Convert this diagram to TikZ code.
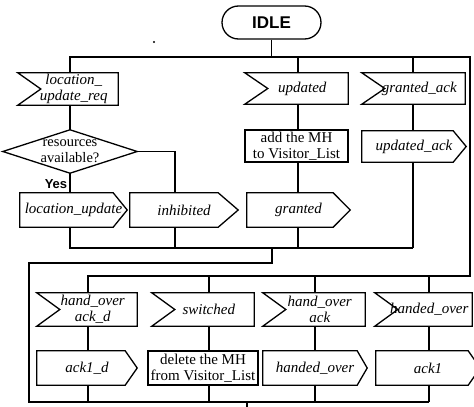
\documentclass[tikz,border=0pt]{standalone}
\usepackage{fontspec}
\setmainfont{Liberation Serif}
\setsansfont{Liberation Sans}
\usetikzlibrary{calc}
\tikzset{
  ln/.style={line width=1.3pt},
  sig/.style={draw=none, inner sep=0pt, align=center, font=\fontsize{15}{16}\selectfont\itshape},
  rbox/.style={draw, ln, inner sep=0pt, align=center, font=\fontsize{15}{16}\selectfont},
}
\newcommand\insig[1]{\draw[ln] ([xshift=-11.5pt]#1.north west) -- (#1.north east) -- (#1.south east) -- ([xshift=-11.5pt]#1.south west) -- ([xshift=11.5pt]#1.west) -- cycle;}
\newcommand\outsig[2]{\draw[ln] (#1.north west) -- ([xshift=-#2]#1.north east) -- (#1.east) -- ([xshift=-#2]#1.south east) -- (#1.south west) -- cycle;}
\begin{document}
\begin{tikzpicture}[x=1pt,y=-1pt]
\useasboundingbox[fill=white] (0,0) rectangle (474,407);

% start state
\node[draw, ln, rounded corners=16.5pt, minimum width=99pt, minimum height=33pt, inner sep=0pt,
  font=\sffamily\bfseries\fontsize{17}{18}\selectfont] (idle) at (271.5,22.5) {IDLE};
\fill (154,42) circle (1.2pt);

% upper part
\node[sig, minimum width=88.5pt, minimum height=32pt] (lur) at (73.75,89) {location\_\\update\_req};
\node[draw=none, minimum width=134pt, minimum height=43pt, inner sep=0pt, align=center,
  font=\fontsize{14.5}{16}\selectfont] (res) at (70,151.5) {resources\\available?};
\node[font=\sffamily\bfseries\fontsize{13}{14}\selectfont, inner sep=0pt] (yes) at (56,184) {Yes};
\node[sig, minimum width=107pt, minimum height=34pt] (lu) at (73.5,210) {location\_update};
\node[sig, minimum width=108pt, minimum height=34pt] (inh) at (184,210) {inhibited};

\node[sig, minimum width=91.5pt, minimum height=31pt] (upd) at (302.25,88.5) {updated};
\node[rbox, minimum width=103pt, minimum height=32pt] (add) at (296.5,146) {add the MH\\to Visitor\_List};
\node[sig, minimum width=103pt, minimum height=34pt] (gra) at (298.5,210) {granted};

\node[sig, minimum width=91.5pt, minimum height=31pt] (gack) at (419.25,88.5) {granted\_ack};
\node[sig, minimum width=104pt, minimum height=31pt] (uack) at (414,146.5) {updated\_ack};

% lower part
\node[sig, minimum width=88.5pt, minimum height=33pt] (hoad) at (92.75,309.5) {hand\_over\\ack\_d};
\node[sig, minimum width=90.5pt, minimum height=33pt] (sw) at (208.75,309.5) {switched};
\node[sig, minimum width=90.5pt, minimum height=33pt] (hoa) at (319.75,309.5) {hand\_over\\ack};
\node[sig, minimum width=85.5pt, minimum height=33pt] (ho) at (429.25,309.5) {handed\_over};

\node[sig, minimum width=100pt, minimum height=34pt] (ackd) at (87,368) {ack1\_d};
\node[rbox, minimum width=110pt, minimum height=34pt] (del) at (203,368) {delete the MH\\from Visitor\_List};
\node[sig, minimum width=104pt, minimum height=34pt] (hov) at (315,368) {handed\_over};
\node[sig, minimum width=104pt, minimum height=34pt] (ack) at (428,368) {ack1};

% outlines
\insig{lur}\insig{upd}\insig{gack}
\insig{hoad}\insig{sw}\insig{hoa}\insig{ho}
\draw[ln] (res.north) -- (res.east) -- (res.south) -- (res.west) -- cycle;
\outsig{lu}{14pt}\outsig{inh}{20pt}\outsig{gra}{17pt}\outsig{uack}{13pt}
\outsig{ackd}{12pt}\outsig{hov}{10pt}\outsig{ack}{12pt}

% junction points
\coordinate (tb1) at (70,57);
\coordinate (tb2) at (470,57);
\coordinate (cu) at (298,57);
\coordinate (cg) at (413,57);
\coordinate (j1) at (70,248);
\coordinate (j2) at (413,248);
\coordinate (ci) at (175,248);
\coordinate (jk) at (272,248);
\coordinate (l1) at (272,263);
\coordinate (l2) at (29,263);
\coordinate (l3) at (29,402);
\coordinate (bb1) at (88,276);
\coordinate (bb2) at (470,276);
\coordinate (c2) at (209,276);
\coordinate (c3) at (315,276);
\coordinate (c4) at (429,276);
\coordinate (l4) at (429,402);
\coordinate (out) at (247,412);

% connectors
\draw[ln] (idle.south) -- (idle.south |- tb1);
\draw[ln] (tb1 |- lur.north) -- (tb1) -- (tb2) -- (bb2) -- (bb1) -- (bb1 |- hoad.north);
\draw[ln] (tb1 |- lur.south) -- (res.north);
\draw[ln] (res.south) -- (res.south |- lu.north);
\draw[ln] (res.east) -| (ci |- inh.north);
\draw[ln] (res.south |- lu.south) -- (j1) -- (j2);
\draw[ln] (ci |- inh.south) -- (ci);
\draw[ln] (cu) -- (cu |- upd.north);
\draw[ln] (cu |- upd.south) -- (cu |- add.north);
\draw[ln] (cu |- add.south) -- (cu |- gra.north);
\draw[ln] (cu |- gra.south) -- (cu |- j1);
\draw[ln] (cg) -- (cg |- gack.north);
\draw[ln] (cg |- gack.south) -- (cg |- uack.north);
\draw[ln] (cg |- uack.south) -- (j2);
\draw[ln] (jk) -- (l1) -- (l2) -- (l3) -- (l4);
\draw[ln] (out |- l3) -- (out);

\draw[ln] (bb1 |- hoad.south) -- (bb1 |- ackd.north);
\draw[ln] (bb1 |- ackd.south) -- (bb1 |- l3);
\draw[ln] (c2) -- (c2 |- sw.north);
\draw[ln] (c2 |- sw.south) -- (c2 |- del.north);
\draw[ln] (c2 |- del.south) -- (c2 |- l3);
\draw[ln] (c3) -- (c3 |- hoa.north);
\draw[ln] (c3 |- hoa.south) -- (c3 |- hov.north);
\draw[ln] (c3 |- hov.south) -- (c3 |- l3);
\draw[ln] (c4) -- (c4 |- ho.north);
\draw[ln] (c4 |- ho.south) -- (c4 |- ack.north);
\draw[ln] (c4 |- ack.south) -- (l4);
\end{tikzpicture}
\end{document}
